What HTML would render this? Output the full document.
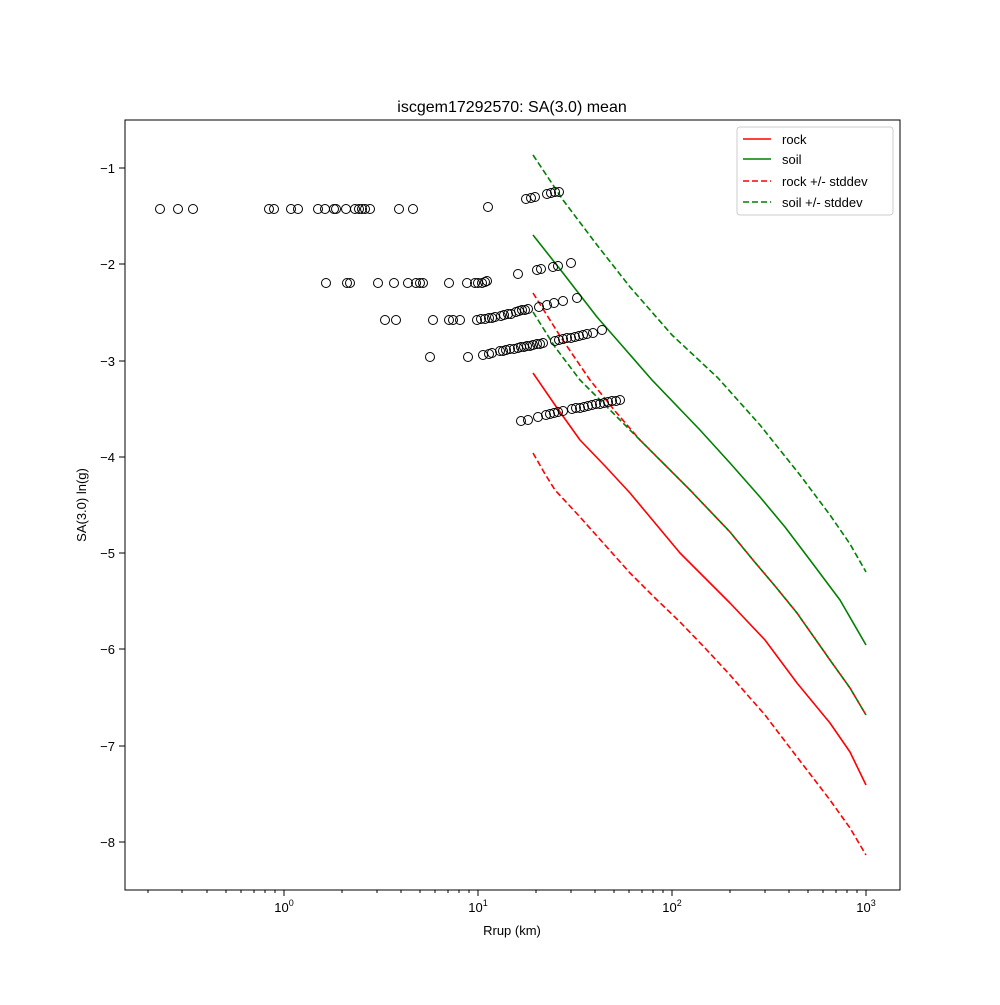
<!DOCTYPE html><html><head><style>body{margin:0;background:#fff}svg{font-family:"Liberation Sans","DejaVu Sans",sans-serif}</style></head><body>
<svg width="1000" height="1000" xmlns="http://www.w3.org/2000/svg">
<rect width="1000" height="1000" fill="#fff"/>
<text x="512" y="112" font-size="16" text-anchor="middle">iscgem17292570: SA(3.0) mean</text>
<g fill="none" stroke-width="1.6" stroke-linejoin="round">
<polyline stroke="red" points="533,373 555,405 580,440 605,466 630,493 655,523 680,553 705,578 730,603 765,640 797,683 830,723 850,752 866,785"/>
<polyline stroke="green" points="533,235 563,273 597,317 625,349 652,380 700,430 730,463 760,497 785,527 810,560 840,600 866,645"/>
<polyline stroke="red" stroke-dasharray="6,3" points="533,293 560,336 590,380 615,411 640,440 665,465 690,490 730,532 753,560 775,586 797,613 830,660 850,688 866,715"/>
<polyline stroke="green" stroke-dasharray="6,3" points="533,312 555,347 580,380 610,410 640,440 665,465 690,490 730,532 753,560 775,586 797,613 830,660 850,688 866,715"/>
<polyline stroke="red" stroke-dasharray="6,3" points="533,453 545,474 555,490 580,517 605,545 630,573 655,598 680,622 705,648 730,675 765,715 797,757 830,800 850,828 866,855"/>
<polyline stroke="green" stroke-dasharray="6,3" points="533,155 563,200 597,245 630,287 672,335 718,378 760,425 800,475 830,515 850,544 866,572"/>
</g>
<g fill="none" stroke="#000" stroke-width="1">
<circle cx="160" cy="209" r="4.5"/><circle cx="178" cy="209" r="4.5"/><circle cx="193" cy="209" r="4.5"/><circle cx="269" cy="209" r="4.5"/><circle cx="274" cy="209" r="4.5"/><circle cx="291" cy="209" r="4.5"/><circle cx="298" cy="209" r="4.5"/><circle cx="318" cy="209" r="4.5"/><circle cx="325" cy="209" r="4.5"/><circle cx="334" cy="209" r="4.5"/><circle cx="336" cy="209" r="4.5"/><circle cx="346" cy="209" r="4.5"/><circle cx="355" cy="209" r="4.5"/><circle cx="359" cy="209" r="4.5"/><circle cx="362" cy="209" r="4.5"/><circle cx="365" cy="209" r="4.5"/><circle cx="370" cy="209" r="4.5"/><circle cx="399" cy="209" r="4.5"/><circle cx="413" cy="209" r="4.5"/><circle cx="488" cy="207" r="4.5"/>
<circle cx="526" cy="199" r="4.5"/><circle cx="531" cy="198" r="4.5"/><circle cx="535" cy="197" r="4.5"/><circle cx="547" cy="194" r="4.5"/><circle cx="551" cy="193" r="4.5"/><circle cx="555" cy="192" r="4.5"/><circle cx="559" cy="192" r="4.5"/>
<circle cx="326" cy="283" r="4.5"/><circle cx="347" cy="283" r="4.5"/><circle cx="350" cy="283" r="4.5"/><circle cx="378" cy="283" r="4.5"/><circle cx="394" cy="283" r="4.5"/><circle cx="408" cy="283" r="4.5"/><circle cx="416" cy="283" r="4.5"/><circle cx="420" cy="283" r="4.5"/><circle cx="423" cy="283" r="4.5"/><circle cx="449" cy="283" r="4.5"/><circle cx="467" cy="283" r="4.5"/><circle cx="475" cy="283" r="4.5"/><circle cx="478" cy="283" r="4.5"/><circle cx="482" cy="283" r="4.5"/><circle cx="485" cy="282" r="4.5"/><circle cx="487" cy="281" r="4.5"/><circle cx="518" cy="274" r="4.5"/><circle cx="537" cy="270" r="4.5"/><circle cx="541" cy="269" r="4.5"/><circle cx="553" cy="267" r="4.5"/><circle cx="558" cy="266" r="4.5"/><circle cx="571" cy="263" r="4.5"/>
<circle cx="385" cy="320" r="4.5"/><circle cx="396" cy="320" r="4.5"/><circle cx="433" cy="320" r="4.5"/><circle cx="449" cy="320" r="4.5"/><circle cx="453" cy="320" r="4.5"/><circle cx="460" cy="320" r="4.5"/><circle cx="477" cy="320" r="4.5"/><circle cx="481" cy="319" r="4.5"/><circle cx="485" cy="319" r="4.5"/><circle cx="489" cy="318" r="4.5"/><circle cx="492" cy="318" r="4.5"/><circle cx="495" cy="317" r="4.5"/><circle cx="501" cy="316" r="4.5"/><circle cx="504" cy="315" r="4.5"/><circle cx="508" cy="314" r="4.5"/><circle cx="511" cy="314" r="4.5"/><circle cx="516" cy="312" r="4.5"/><circle cx="519" cy="311" r="4.5"/><circle cx="522" cy="310" r="4.5"/><circle cx="525" cy="310" r="4.5"/><circle cx="528" cy="309" r="4.5"/><circle cx="539" cy="307" r="4.5"/><circle cx="547" cy="305" r="4.5"/><circle cx="554" cy="303" r="4.5"/><circle cx="563" cy="301" r="4.5"/><circle cx="577" cy="298" r="4.5"/>
<circle cx="430" cy="357" r="4.5"/><circle cx="468" cy="357" r="4.5"/><circle cx="483" cy="355" r="4.5"/><circle cx="489" cy="354" r="4.5"/><circle cx="492" cy="353" r="4.5"/><circle cx="500" cy="351" r="4.5"/><circle cx="503" cy="351" r="4.5"/><circle cx="506" cy="350" r="4.5"/><circle cx="510" cy="349" r="4.5"/><circle cx="514" cy="349" r="4.5"/><circle cx="518" cy="348" r="4.5"/><circle cx="521" cy="347" r="4.5"/><circle cx="524" cy="347" r="4.5"/><circle cx="527" cy="346" r="4.5"/><circle cx="530" cy="346" r="4.5"/><circle cx="533" cy="345" r="4.5"/><circle cx="537" cy="344" r="4.5"/><circle cx="540" cy="344" r="4.5"/><circle cx="543" cy="343" r="4.5"/><circle cx="555" cy="341" r="4.5"/><circle cx="559" cy="340" r="4.5"/><circle cx="563" cy="339" r="4.5"/><circle cx="567" cy="338" r="4.5"/><circle cx="571" cy="338" r="4.5"/><circle cx="575" cy="337" r="4.5"/><circle cx="579" cy="336" r="4.5"/><circle cx="583" cy="335" r="4.5"/><circle cx="587" cy="334" r="4.5"/><circle cx="593" cy="333" r="4.5"/><circle cx="602" cy="330" r="4.5"/>
<circle cx="521" cy="421" r="4.5"/><circle cx="528" cy="420" r="4.5"/><circle cx="538" cy="417" r="4.5"/><circle cx="546" cy="415" r="4.5"/><circle cx="550" cy="414" r="4.5"/><circle cx="554" cy="413" r="4.5"/><circle cx="558" cy="412" r="4.5"/><circle cx="563" cy="411" r="4.5"/><circle cx="572" cy="409" r="4.5"/><circle cx="576" cy="408" r="4.5"/><circle cx="580" cy="408" r="4.5"/><circle cx="584" cy="407" r="4.5"/><circle cx="588" cy="406" r="4.5"/><circle cx="592" cy="405" r="4.5"/><circle cx="596" cy="404" r="4.5"/><circle cx="600" cy="404" r="4.5"/><circle cx="604" cy="403" r="4.5"/><circle cx="608" cy="402" r="4.5"/><circle cx="612" cy="401" r="4.5"/><circle cx="616" cy="401" r="4.5"/><circle cx="620" cy="400" r="4.5"/>
</g>
<rect x="125" y="120" width="775" height="770" fill="none" stroke="#000" stroke-width="1"/>
<g stroke="#000">
<line x1="284" y1="890" x2="284" y2="896"/><line x1="478" y1="890" x2="478" y2="896"/><line x1="672" y1="890" x2="672" y2="896"/><line x1="866" y1="890" x2="866" y2="896"/>
<line x1="125" y1="168" x2="119" y2="168"/><line x1="125" y1="264" x2="119" y2="264"/><line x1="125" y1="361" x2="119" y2="361"/><line x1="125" y1="457" x2="119" y2="457"/><line x1="125" y1="553" x2="119" y2="553"/><line x1="125" y1="649" x2="119" y2="649"/><line x1="125" y1="746" x2="119" y2="746"/><line x1="125" y1="842" x2="119" y2="842"/>
<line x1="148" y1="890" x2="148" y2="893"/><line x1="182" y1="890" x2="182" y2="893"/><line x1="207" y1="890" x2="207" y2="893"/><line x1="226" y1="890" x2="226" y2="893"/><line x1="241" y1="890" x2="241" y2="893"/><line x1="254" y1="890" x2="254" y2="893"/><line x1="265" y1="890" x2="265" y2="893"/><line x1="275" y1="890" x2="275" y2="893"/>
<line x1="342" y1="890" x2="342" y2="893"/><line x1="377" y1="890" x2="377" y2="893"/><line x1="401" y1="890" x2="401" y2="893"/><line x1="420" y1="890" x2="420" y2="893"/><line x1="435" y1="890" x2="435" y2="893"/><line x1="448" y1="890" x2="448" y2="893"/><line x1="459" y1="890" x2="459" y2="893"/><line x1="469" y1="890" x2="469" y2="893"/>
<line x1="536" y1="890" x2="536" y2="893"/><line x1="571" y1="890" x2="571" y2="893"/><line x1="595" y1="890" x2="595" y2="893"/><line x1="614" y1="890" x2="614" y2="893"/><line x1="629" y1="890" x2="629" y2="893"/><line x1="642" y1="890" x2="642" y2="893"/><line x1="653" y1="890" x2="653" y2="893"/><line x1="663" y1="890" x2="663" y2="893"/>
<line x1="730" y1="890" x2="730" y2="893"/><line x1="765" y1="890" x2="765" y2="893"/><line x1="789" y1="890" x2="789" y2="893"/><line x1="808" y1="890" x2="808" y2="893"/><line x1="823" y1="890" x2="823" y2="893"/><line x1="836" y1="890" x2="836" y2="893"/><line x1="847" y1="890" x2="847" y2="893"/><line x1="857" y1="890" x2="857" y2="893"/>
</g>
<g font-size="13" text-anchor="middle">
<text x="284" y="912">10<tspan font-size="9" dy="-6">0</tspan></text>
<text x="478" y="912">10<tspan font-size="9" dy="-6">1</tspan></text>
<text x="672" y="912">10<tspan font-size="9" dy="-6">2</tspan></text>
<text x="866" y="912">10<tspan font-size="9" dy="-6">3</tspan></text>
</g>
<g font-size="13" text-anchor="end">
<text x="115" y="173">−1</text><text x="115" y="269">−2</text><text x="115" y="366">−3</text><text x="115" y="462">−4</text><text x="115" y="558">−5</text><text x="115" y="654">−6</text><text x="115" y="751">−7</text><text x="115" y="847">−8</text>
</g>
<text x="512" y="935" font-size="13" text-anchor="middle">Rrup (km)</text>
<text transform="translate(86,505) rotate(-90)" font-size="13" text-anchor="middle">SA(3.0) ln(g)</text>
<rect x="737" y="127" width="156" height="88" rx="3" fill="#fff" stroke="#ccc"/>
<g stroke-width="1.6">
<line x1="743" y1="139" x2="771" y2="139" stroke="red"/>
<line x1="743" y1="159" x2="771" y2="159" stroke="green"/>
<line x1="743" y1="181" x2="771" y2="181" stroke="red" stroke-dasharray="6,3"/>
<line x1="743" y1="202" x2="771" y2="202" stroke="green" stroke-dasharray="6,3"/>
</g>
<g font-size="13">
<text x="782" y="144">rock</text><text x="782" y="164">soil</text><text x="782" y="186">rock +/- stddev</text><text x="782" y="207">soil +/- stddev</text>
</g>
</svg>
</body></html>
